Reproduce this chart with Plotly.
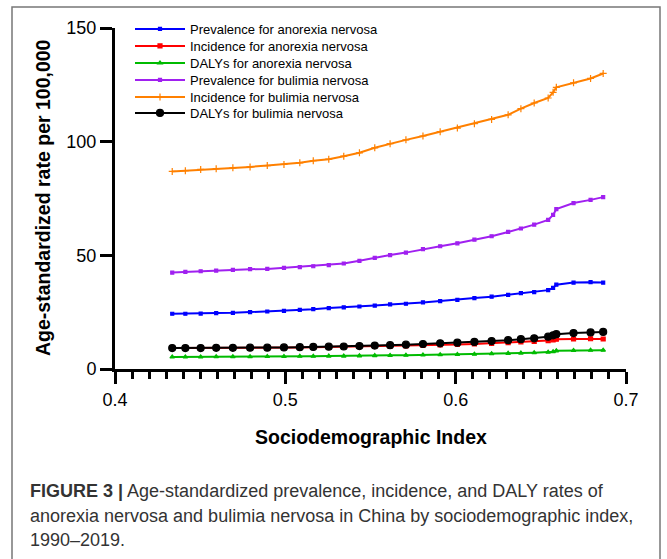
import plotly.graph_objects as go

# Sociodemographic index, China 1990-2019
sdi = [0.4336, 0.4413, 0.4503, 0.4594, 0.4692, 0.4793, 0.4894, 0.4992, 0.5085, 0.5164,
       0.5255, 0.5343, 0.5435, 0.5525, 0.5615, 0.5708, 0.5808, 0.5909, 0.6010, 0.6110,
       0.6211, 0.6308, 0.6383, 0.6461, 0.6543, 0.6572, 0.6591, 0.6692, 0.6792, 0.6866]

# Age-standardized rates per 100,000
prev_an = [24.3, 24.3, 24.4, 24.6, 24.7, 25.0, 25.3, 25.6, 26.0, 26.3,
           26.8, 27.1, 27.5, 27.9, 28.4, 28.7, 29.3, 29.9, 30.4, 31.2,
           31.8, 32.6, 33.4, 33.8, 34.7, 35.7, 37.1, 38.0, 38.2, 38.0]
inc_an = [9.2, 9.2, 9.2, 9.3, 9.3, 9.4, 9.4, 9.5, 9.5, 9.6,
          9.7, 9.8, 9.9, 10.0, 10.1, 10.2, 10.4, 10.6, 10.8, 11.0,
          11.3, 11.6, 11.9, 12.1, 12.5, 12.8, 13.1, 13.2, 13.3, 13.2]
daly_an = [5.3, 5.3, 5.3, 5.4, 5.4, 5.4, 5.5, 5.5, 5.6, 5.6,
           5.7, 5.7, 5.8, 5.9, 6.0, 6.1, 6.2, 6.3, 6.4, 6.5,
           6.7, 6.9, 7.0, 7.2, 7.4, 7.6, 8.0, 8.2, 8.3, 8.3]
prev_bn = [42.4, 42.7, 43.0, 43.3, 43.6, 43.9, 44.0, 44.5, 44.8, 45.2,
           45.7, 46.4, 47.6, 48.9, 50.1, 51.2, 52.7, 54.0, 55.3, 56.9,
           58.4, 60.3, 61.8, 63.5, 65.6, 67.8, 70.3, 73.0, 74.4, 75.6]
inc_bn = [86.9, 87.2, 87.8, 88.1, 88.5, 88.9, 89.5, 90.0, 90.7, 91.6,
          92.3, 93.6, 95.1, 97.3, 99.1, 100.8, 102.5, 104.4, 106.0, 107.9,
          109.8, 111.8, 114.5, 117.0, 119.2, 121.7, 123.9, 125.9, 127.8, 130.0]
daly_bn = [9.2, 9.2, 9.2, 9.3, 9.3, 9.4, 9.4, 9.5, 9.6, 9.7,
           9.8, 9.9, 10.1, 10.3, 10.5, 10.7, 11.0, 11.3, 11.6, 11.9,
           12.3, 12.7, 13.1, 13.5, 14.2, 14.8, 15.3, 15.8, 16.1, 16.3]

series_names = ["Prevalence for anorexia nervosa", "Incidence for anorexia nervosa",
                "DALYs for anorexia nervosa", "Prevalence for bulimia nervosa",
                "Incidence for bulimia nervosa", "DALYs for bulimia nervosa"]
series_values = [prev_an, inc_an, daly_an, prev_bn, inc_bn, daly_bn]

x_ticks = [0.4, 0.5, 0.6, 0.7]
y_ticks = [0, 50, 100, 150]

caption_lines = [
    "<b>FIGURE 3 |</b> Age-standardized prevalence, incidence, and DALY rates of",
    "anorexia nervosa and bulimia nervosa in China by sociodemographic index,",
    "1990–2019.",
]

W, H = 667, 559
L, R, T, B = 115, 626, 28, 369   # plot area in pixels


def px(x):
    return (x - L) / (R - L)


def py(y):
    return (B - y) / (B - T)


styles = [
    dict(color="#0000ff", symbol="square", size=3),
    dict(color="#ff0000", symbol="square", size=4),
    dict(color="#00bb00", symbol="triangle-up", size=4),
    dict(color="#a020f0", symbol="square", size=3),
    dict(color="#ff8000", symbol="cross-thin", size=5),
    dict(color="#000000", symbol="circle", size=7),
]

fig = go.Figure()
legend_rows = [29, 46, 63, 80, 97, 113]
for i, (name, vals, st) in enumerate(zip(series_names, series_values, styles)):
    lg = "legend" if i == 0 else f"legend{i + 1}"
    fig.add_trace(go.Scatter(
        x=sdi, y=vals, name=name, mode="lines+markers",
        line=dict(color=st["color"], width=2),
        marker=dict(color=st["color"], symbol=st["symbol"], size=st["size"],
                    line=dict(color=st["color"], width=1.2)),
        legend=lg, showlegend=True, cliponaxis=False,
    ))

# one legend per series so each row sits at its own height
legend_font = dict(family="Arial", size=13, color="#000")
for i, row in enumerate(legend_rows):
    lg = "legend" if i == 0 else f"legend{i + 1}"
    fig.layout[lg] = dict(
        x=px(130), y=py(row), xanchor="left", yanchor="middle",
        bgcolor="rgba(0,0,0,0)", font=legend_font, itemwidth=50,
        visible=True,
    )

tick_font = dict(family="Arial", size=18, color="#000")

fig.update_xaxes(
    range=[0.4, 0.7], tickvals=x_ticks, ticktext=[f"{v:.1f}" for v in x_ticks],
    showline=True, linewidth=3, linecolor="#000",
    ticks="outside", ticklen=12, tickwidth=3, tickcolor="#000",
    minor=dict(ticks="outside", dtick=0.01, ticklen=7, tickwidth=3, tickcolor="#000"),
    showgrid=False, zeroline=False, tickfont=tick_font,
)
fig.update_yaxes(
    range=[0, 150], tickvals=y_ticks,
    showline=True, linewidth=3, linecolor="#000",
    ticks="outside", ticklen=12, tickwidth=3, tickcolor="#000",
    showgrid=False, zeroline=False, tickfont=tick_font,
)

annotations = [
    dict(text="<b>Sociodemographic Index</b>", x=px(371), y=py(437),
         font=dict(family="Arial", size=19.5, color="#000")),
    dict(text="<b>Age-standardized rate per 100,000</b>", x=px(43), y=py(198), textangle=-90,
         font=dict(family="Arial", size=19.5, color="#000")),
]
for k, line in enumerate(caption_lines):
    annotations.append(dict(text=line, x=px(28), y=py(491 + 24.5 * k), xanchor="left",
                            font=dict(family="Arial", size=18, color="#333")))
for a in annotations:
    a.update(xref="paper", yref="paper", showarrow=False)
    a.setdefault("xanchor", "center")
    a.setdefault("yanchor", "middle")

fig.update_layout(
    width=W, height=H,
    showlegend=True,
    margin=dict(l=L, r=W - R, t=T, b=H - B, autoexpand=False),
    paper_bgcolor="#fff", plot_bgcolor="#fff",
    annotations=annotations,
    shapes=[dict(type="rect", xref="paper", yref="paper",
                 x0=px(12), x1=px(660), y0=py(566), y1=py(7),
                 line=dict(color="#777", width=1.5), layer="below")],
)

fig.write_html("out.html")
